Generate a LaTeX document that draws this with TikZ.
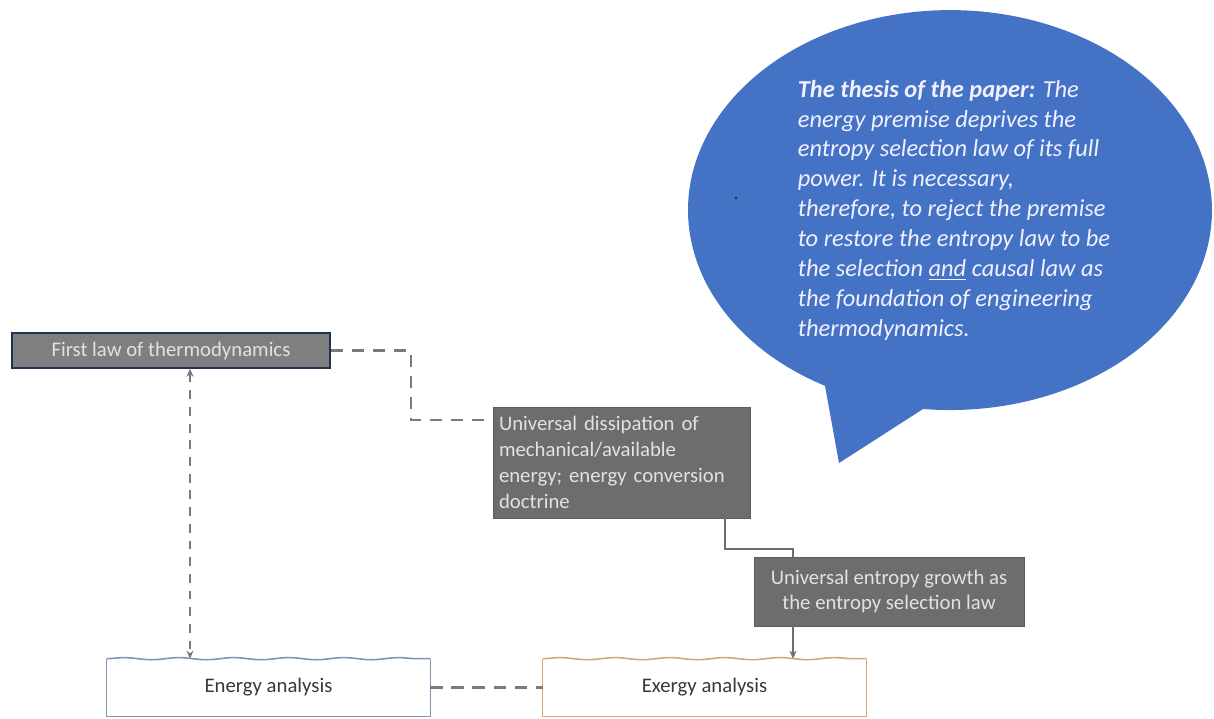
\documentclass[tikz,border=0pt]{standalone}
\usepackage{fontspec}
\setmainfont{Carlito}
\usetikzlibrary{arrows.meta,decorations.pathmorphing}

\definecolor{bubbleBlue}{HTML}{4472C4}
\definecolor{lawGray}{HTML}{7F7F7F}
\definecolor{lawBorder}{HTML}{1F3354}
\definecolor{boxGray}{HTML}{6D6D6D}
\definecolor{boxText}{HTML}{E2E2E2}
\definecolor{lineGray}{HTML}{7A7A7A}
\definecolor{energyBorder}{HTML}{8094B0}
\definecolor{exergyBorder}{HTML}{D2A679}

\begin{document}
\begin{tikzpicture}[x=0.02cm, y=-0.02cm,
	grayBox/.style={rectangle, fill=boxGray, draw=boxGray!85!black, line width=0.4pt, text=boxText, font=\fontsize{11.8}{14.7}\selectfont, inner sep=2pt},
	analysisBox/.style={rectangle, text=black!78, font=\fontsize{11.8}{14.7}\selectfont, minimum width=6.46cm, minimum height=1.14cm},
	wavyEdge/.style={decorate, decoration={snake, amplitude=0.6pt, segment length=1.1cm}},
	dashLine/.style={draw=lineGray, line width=1.3pt, dash pattern=on 7pt off 5pt},
	solidLine/.style={draw=lineGray!90!black, line width=1.1pt}]
	
	\useasboundingbox (0,0) rectangle (1214,718);
	
	%Speech bubble
	\fill[bubbleBlue] (839,463) -- (825,385.8) arc[start angle=241.5, end angle=-95.9, x radius=5.24cm, y radius=4cm] -- cycle;
	\fill[black!80] (736,198) circle (0.9pt);
	
	\node (thesisText) at (954,210) [text=white!94!blue, align=left, font=\fontsize{13.9}{17}\selectfont\itshape]{\textbf{The thesis of the paper:} The\\
		energy premise deprives the\\
		entropy selection law of its full\\
		power. It is necessary,\\
		therefore, to reject the premise\\
		to restore the entropy law to be\\
		the selection \underline{and} causal law as\\
		the foundation of engineering\\
		thermodynamics.};
	
	%First law box
	\node (firstLaw) at (171,350.5) [rectangle, fill=lawGray, draw=lawBorder, line width=0.9pt, text=boxText, font=\fontsize{11.8}{14.7}\selectfont, minimum width=6.36cm, minimum height=0.7cm]{First law of thermodynamics};
	
	%Gray boxes
	\node (dissipation) at (621.5,462.5) [grayBox, minimum width=5.14cm, minimum height=2.22cm, text width=4.9cm, align=left]{Universal dissipation of\\ mechanical/available\\ energy; energy conversion\\ doctrine};
	\node (entropyGrowth) at (889,591.5) [grayBox, minimum width=5.4cm, minimum height=1.38cm, align=center]{Universal entropy growth as\\ the entropy selection law};
	
	%Analysis boxes
	\node (energyAnalysis) at (268.5,687.5) [analysisBox]{Energy analysis};
	\draw[energyBorder, line width=0.9pt] (energyAnalysis.north east) -- (energyAnalysis.south east) -- (energyAnalysis.south west) -- (energyAnalysis.north west);
	\draw[energyBorder, line width=0.9pt, wavyEdge] (energyAnalysis.north west) -- (energyAnalysis.north east);
	
	\node (exergyAnalysis) at (704.5,687.5) [analysisBox]{Exergy analysis};
	\draw[exergyBorder, line width=0.9pt] (exergyAnalysis.north east) -- (exergyAnalysis.south east) -- (exergyAnalysis.south west) -- (exergyAnalysis.north west);
	\draw[exergyBorder, line width=0.9pt, wavyEdge] (exergyAnalysis.north west) -- (exergyAnalysis.north east);
	
	%Connectors
	\coordinate (lawBend) at (411,420);
	\coordinate (arrowAxis) at (190,0);
	\coordinate (dissipAxis) at (725,0);
	\coordinate (growthAxis) at (793,0);
	
	\draw[dashLine] (firstLaw.east) -| (lawBend) -- (lawBend -| dissipation.west);
	\draw[dashLine, line width=1.2pt, dash pattern=on 5pt off 4.5pt, {Stealth[length=4.5pt,width=4pt]}-{Stealth[length=4.5pt,width=4pt]}] (firstLaw.south -| arrowAxis) -- (energyAnalysis.north -| arrowAxis);
	\draw[dashLine] (energyAnalysis.east) -- (exergyAnalysis.west);
	
	\draw[solidLine] (dissipation.south -| dissipAxis) -- ++(0,31) -| (entropyGrowth.north -| growthAxis);
	\draw[solidLine, -{Stealth[length=4.5pt,width=4pt]}] (entropyGrowth.south -| growthAxis) -- (exergyAnalysis.north -| growthAxis);
	
\end{tikzpicture}
\end{document}
